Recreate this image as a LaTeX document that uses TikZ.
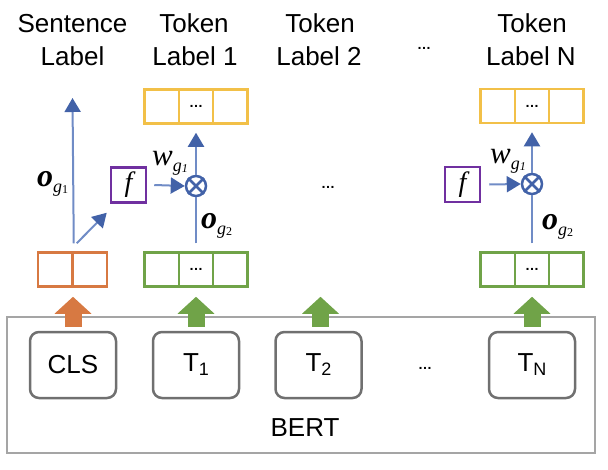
\documentclass[tikz,border=0pt]{standalone}
\usepackage{fontspec}
\setmainfont{Liberation Sans}
\newfontfamily\tnr{Liberation Serif}
\usetikzlibrary{arrows.meta,calc}
\definecolor{corange}{RGB}{215,121,66}
\definecolor{cgreen}{RGB}{112,163,72}
\definecolor{cyellow}{RGB}{242,192,72}
\definecolor{cpurple}{RGB}{112,48,160}
\definecolor{bline}{RGB}{112,140,198}
\definecolor{bhead}{RGB}{66,98,168}
\definecolor{boxgray}{RGB}{112,112,112}
\definecolor{bertgray}{RGB}{165,165,165}
\newcommand{\bigfont}{\fontsize{26}{30}\selectfont}
\newcommand{\dotsfont}{\fontsize{14}{14}\selectfont\bfseries}
\newcommand{\ovec}[2]{{\tnr\fontsize{32}{32}\selectfont\bfseries\itshape o}\raisebox{-6pt}{\tnr\fontsize{18}{18}\selectfont\itshape g}\raisebox{-7pt}{\tnr\fontsize{12}{12}\selectfont #2}}
\newcommand{\wvec}{{\tnr\fontsize{31}{31}\selectfont\itshape w}\raisebox{-6pt}{\tnr\fontsize{18}{18}\selectfont\itshape g}\raisebox{-7pt}{\tnr\fontsize{12}{12}\selectfont\itshape 1}}
\newcommand{\tsub}[1]{T\raisebox{-4pt}{\fontsize{18}{18}\selectfont #1}}
\begin{document}
\begin{tikzpicture}[x=1pt,y=-1pt,
  title/.style={anchor=base, font=\bigfont, inner sep=0pt},
  tok/.style={draw=boxgray, line width=2.5pt, rounded corners=9pt, minimum width=86pt, minimum height=66pt, inner sep=0pt, font=\bigfont},
  cell/.style={draw, line width=2.5pt, minimum width=34.3pt, minimum height=34pt, inner sep=0pt, fill=white, font=\dotsfont},
  fbox/.style={draw=cpurple, line width=2.5pt, minimum size=35pt, inner sep=0pt, font=\tnr\fontsize{28}{28}\selectfont\itshape},
  otim/.style={draw=bhead, line width=2.5pt, circle, minimum size=20pt, inner sep=0pt},
  fat/.style={line width=17pt, -{Triangle[length=17pt,width=36pt]}},
  barrow/.style={draw=bline, line width=2pt, -{Triangle[length=14pt,width=16pt,color=bhead]}},
  bline/.style={draw=bline, line width=2pt},
  lab/.style={anchor=base west, inner sep=0pt},
  dots/.style={font=\dotsfont, inner sep=0pt}
]
\useasboundingbox (0,0) rectangle (608,469);

% titles
\node[title] (st1) at (72.5,32) {Sentence};
\node[title] (st2) at (72.5,65) {Label};
\node[title] (a1) at (194,32) {Token};
\node[title] (a2) at (195,65) {Label 1};
\node[title] (b1) at (320,32) {Token};
\node[title] (b2) at (319,65) {Label 2};
\node[title] (c1) at (532,32) {Token};
\node[title] (c2) at (531,65) {Label N};
\node[dots] (tdots) at (424,48) {…};

% BERT
\node[draw=bertgray, line width=2.5pt, minimum width=588pt, minimum height=136pt, inner sep=0pt] (bert) at (301,385) {};
\node[title] (berttxt) at (305,436) {BERT};
\node[tok] (cls) at (73,365) {CLS};
\node[tok] (t1) at (196,365) {\tsub{1}};
\node[tok] (t2) at (318.5,365) {\tsub{2}};
\node[tok] (tn) at (532,365) {\tsub{N}};
\node[dots] (bdots) at (425,368) {…};

% orange cells
\node[cell, draw=corange, minimum width=34.5pt] (oa) at (55.25,269.5) {};
\node[cell, draw=corange, minimum width=34.5pt] (ob) at (89.75,269.5) {};

% green cells col 1
\node[cell, draw=cgreen] (g1a) at (161.7,269.5) {};
\node[cell, draw=cgreen] (g1b) at (196,269.5) {…};
\node[cell, draw=cgreen] (g1c) at (230.3,269.5) {};
% yellow col 1
\node[cell, draw=cyellow] (y1a) at (161.7,106.5) {};
\node[cell, draw=cyellow] (y1b) at (196,106.5) {…};
\node[cell, draw=cyellow] (y1c) at (230.3,106.5) {};
% green col N
\node[cell, draw=cgreen] (gna) at (497.7,269.5) {};
\node[cell, draw=cgreen] (gnb) at (532,269.5) {…};
\node[cell, draw=cgreen] (gnc) at (566.3,269.5) {};
% yellow col N
\node[cell, draw=cyellow] (yna) at (497.7,106) {};
\node[cell, draw=cyellow] (ynb) at (532,106) {…};
\node[cell, draw=cyellow] (ync) at (566.3,106) {};

\node[dots] (mdots) at (328,187) {…};

% fat arrows
\draw[fat, corange] ([yshift=4pt]cls.north) -- ([yshift=-9pt]cls.north |- oa.south);
\draw[fat, cgreen] ([yshift=4pt]t1.north) -- ([yshift=-9pt]g1b.south);
\draw[fat, cgreen] ([yshift=4pt,xshift=2pt]t2.north) -- ([yshift=-9pt,xshift=2pt]t2.north |- g1b.south);
\draw[fat, cgreen] ([yshift=4pt]tn.north) -- ([yshift=-9pt]gnb.south);

% sentence branch
\coordinate (stip) at (72.5,98);
\draw[barrow] ([yshift=8pt]oa.north east) -- (stip);
\node[lab] (og1) at (37,186) {\ovec{o}{1}};
\node[fbox] (f1) at (128.5,185) {f};
\draw[barrow] ([xshift=3pt,yshift=8pt]oa.north east) -- ([xshift=-3pt,yshift=-9pt]f1.south west);

% token 1 branch
\node[otim] (ot1) at (196,186) {};
\draw[bhead, line width=2.5pt] (ot1.45) -- (ot1.225) (ot1.135) -- (ot1.315);
\draw[barrow] ([xshift=7pt]f1.east) -- (ot1.west);
\draw[bline] ([yshift=8pt]g1b.north) -- (ot1.south);
\draw[barrow] (ot1.north) -- ([yshift=-8pt]y1b.south);
\node[lab] (w1) at (152,165) {\wvec};
\node[lab] (og2) at (201,228) {\ovec{o}{\upshape 2}};

% token N branch
\node[fbox] (fn) at (462.5,184.5) {f};
\node[otim] (otn) at (532,184) {};
\draw[bhead, line width=2.5pt] (otn.45) -- (otn.225) (otn.135) -- (otn.315);
\draw[barrow] ([xshift=8pt]fn.east) -- (otn.west);
\draw[bline] ([yshift=8pt]gnb.north) -- (otn.south);
\draw[barrow] (otn.north) -- ([yshift=-8pt]ynb.south);
\node[lab] (wn) at (490,163) {\wvec};
\node[lab] (ogn) at (542,229) {\ovec{o}{\upshape 2}};
\end{tikzpicture}
\end{document}
